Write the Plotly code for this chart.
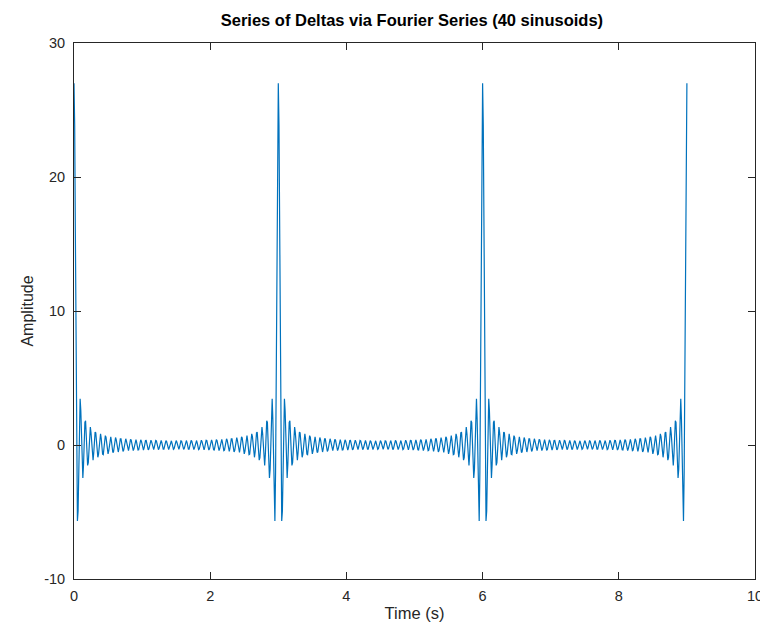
import numpy as np
import plotly.graph_objects as go

# Fourier-series description of the delta train (read from the title / picture)
period_s = 3.0                      # spacing of the deltas
dc_term = 1.0 / 3.0                 # a0 = 1/T
harmonic_numbers = list(range(1, 41))          # 40 sinusoids
harmonic_amplitudes = [2.0 / 3.0] * 40         # 2/T for each cosine
time_s = np.round(np.arange(0, 901) * 0.01, 2)  # 0 .. 9 s, step 0.01 s

x_ticks = [0, 2, 4, 6, 8, 10]
y_ticks = [-10, 0, 10, 20, 30]

amplitude = np.full_like(time_s, dc_term, dtype=float)
for k, a in zip(harmonic_numbers, harmonic_amplitudes):
    amplitude += a * np.cos(2 * np.pi * k * time_s / period_s)

font_family = "Liberation Sans, Arial, sans-serif"
ink = "#262626"

fig = go.Figure()
fig.add_trace(go.Scatter(x=time_s, y=amplitude, mode="lines",
                         line=dict(color="#0072BD", width=1.2),
                         showlegend=False, hoverinfo="skip"))

axis_common = dict(showline=True, linecolor=ink, linewidth=1, mirror="allticks",
                   ticks="inside", ticklen=7, tickcolor=ink, showgrid=False,
                   zeroline=False, automargin=False, ticklabeloverflow="allow",
                   tickfont=dict(family=font_family, size=14.5, color=ink))

fig.update_layout(
    width=760, height=622,
    margin=dict(l=74, r=5, t=43, b=43),
    plot_bgcolor="white", paper_bgcolor="white",
    title=dict(text="<b>Series of Deltas via Fourier Series (40 sinusoids)</b>",
               x=0.542, xanchor="center", y=1 - 20 / 622, yanchor="middle",
               font=dict(family=font_family, size=16.5, color="black")),
    xaxis=dict(range=[0, 10], tickvals=x_ticks, ticktext=[str(v) for v in x_ticks],
               ticklabelstandoff=4,
               title=dict(text="Time (s)", standoff=5,
                          font=dict(family=font_family, size=16.5, color=ink)),
               **axis_common),
    yaxis=dict(range=[-10, 30], tickvals=y_ticks, ticktext=[str(v) for v in y_ticks],
               ticklabelstandoff=5,
               title=dict(text="Amplitude", standoff=6,
                          font=dict(family=font_family, size=16, color=ink)),
               **axis_common),
)

fig.write_html("out.html", config={"displayModeBar": False},
               post_script="document.body.style.margin='0';document.body.style.padding='0';")
